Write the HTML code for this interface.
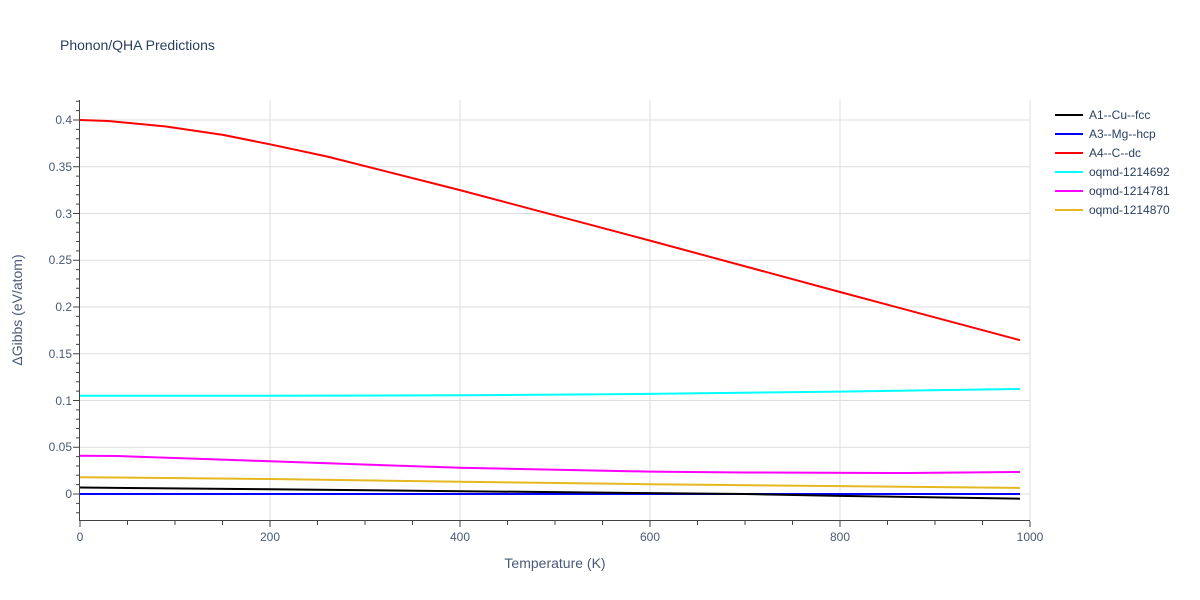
<!DOCTYPE html>
<html><head><meta charset="utf-8"><style>body{margin:0;background:#fff}svg{display:block;font-family:"Liberation Sans",sans-serif}</style></head><body>
<svg width="1200" height="600" xmlns="http://www.w3.org/2000/svg">
<rect width="1200" height="600" fill="#fff"/>
<text x="60" y="50" font-size="14" fill="#2a3f5f">Phonon/QHA Predictions</text>
<g stroke="#ddd" stroke-width="1">
<line x1="270" y1="100" x2="270" y2="520"/><line x1="460" y1="100" x2="460" y2="520"/><line x1="650" y1="100" x2="650" y2="520"/><line x1="840" y1="100" x2="840" y2="520"/><line x1="1030" y1="100" x2="1030" y2="520"/>
<line x1="80" y1="120" x2="1030" y2="120"/><line x1="80" y1="166.75" x2="1030" y2="166.75"/><line x1="80" y1="213.5" x2="1030" y2="213.5"/><line x1="80" y1="260.25" x2="1030" y2="260.25"/><line x1="80" y1="307" x2="1030" y2="307"/><line x1="80" y1="353.75" x2="1030" y2="353.75"/><line x1="80" y1="400.5" x2="1030" y2="400.5"/><line x1="80" y1="447.25" x2="1030" y2="447.25"/><line x1="80" y1="494" x2="1030" y2="494"/>
</g>
<g stroke="#444" stroke-width="1">
<line x1="79.5" y1="100" x2="79.5" y2="520.5"/><line x1="79" y1="520.5" x2="1030" y2="520.5"/>
<path d="M76 512.7H79M76 503.35H79M73 494H79M76 484.65H79M76 475.3H79M76 465.95H79M76 456.6H79M73 447.25H79M76 437.9H79M76 428.55H79M76 419.2H79M76 409.85H79M73 400.5H79M76 391.15H79M76 381.8H79M76 372.45H79M76 363.1H79M73 353.75H79M76 344.4H79M76 335.05H79M76 325.7H79M76 316.35H79M73 307H79M76 297.65H79M76 288.3H79M76 278.95H79M76 269.6H79M73 260.25H79M76 250.9H79M76 241.55H79M76 232.2H79M76 222.85H79M73 213.5H79M76 204.15H79M76 194.8H79M76 185.45H79M76 176.1H79M73 166.75H79M76 157.4H79M76 148.05H79M76 138.7H79M76 129.35H79M73 120H79M76 110.65H79M76 101.3H79"/>
<path d="M80 521V527M127.5 521V525M175 521V525M222.5 521V525M270 521V527M317.5 521V525M365 521V525M412.5 521V525M460 521V527M507.5 521V525M555 521V525M602.5 521V525M650 521V527M697.5 521V525M745 521V525M792.5 521V525M840 521V527M887.5 521V525M935 521V525M982.5 521V525M1030 521V527"/>
</g>
<g font-size="12" fill="#4a5a78" text-anchor="end">
<text x="72" y="124">0.4</text><text x="72" y="171">0.35</text><text x="72" y="218">0.3</text><text x="72" y="264">0.25</text><text x="72" y="311">0.2</text><text x="72" y="358">0.15</text><text x="72" y="405">0.1</text><text x="72" y="451">0.05</text><text x="72" y="498">0</text>
</g>
<g font-size="12" fill="#4a5a78" text-anchor="middle">
<text x="80" y="541">0</text><text x="270" y="541">200</text><text x="460" y="541">400</text><text x="650" y="541">600</text><text x="840" y="541">800</text><text x="1030" y="541">1000</text>
</g>
<text x="555" y="568" font-size="14" fill="#4a5a78" text-anchor="middle">Temperature (K)</text>
<text transform="translate(22,310) rotate(-90)" font-size="14" fill="#4a5a78" text-anchor="middle">ΔGibbs (eV/atom)</text>
<g fill="none" stroke-width="2" stroke-linejoin="round">
<polyline stroke="#0000ff" points="80,494 1020,494"/>
<polyline stroke="#000" points="80,487.5 270,489.3 460,491.2 650,493.1 745,494 840,495.9 1020,498.7"/>
<polyline stroke="#e6b820" points="80,477.2 270,479 460,481.8 650,484.2 840,486.1 1020,487.9"/>
<polyline stroke="#ff00ff" points="80,455.7 118,456 270,461.3 460,467.8 650,471.6 745,472.5 907,473 1020,472"/>
<polyline stroke="#00ffff" points="80,395.8 270,395.8 460,395.3 650,393.9 840,391.6 1020,389"/>
<polyline stroke="#ff0000" points="80,120 108,121 166,126.5 223,134.9 270,144.3 327,156.5 460,190.1 650,240.6 840,292 1020,340.2"/>
</g>
<g font-size="12" fill="#2a3f5f">
<line x1="1055" y1="115" x2="1083" y2="115" stroke="#000" stroke-width="2"/><text x="1089" y="119">A1--Cu--fcc</text>
<line x1="1055" y1="134" x2="1083" y2="134" stroke="#0000ff" stroke-width="2"/><text x="1089" y="138">A3--Mg--hcp</text>
<line x1="1055" y1="153" x2="1083" y2="153" stroke="#ff0000" stroke-width="2"/><text x="1089" y="157">A4--C--dc</text>
<line x1="1055" y1="172" x2="1083" y2="172" stroke="#00ffff" stroke-width="2"/><text x="1089" y="176">oqmd-1214692</text>
<line x1="1055" y1="191" x2="1083" y2="191" stroke="#ff00ff" stroke-width="2"/><text x="1089" y="195">oqmd-1214781</text>
<line x1="1055" y1="210" x2="1083" y2="210" stroke="#e6b820" stroke-width="2"/><text x="1089" y="214">oqmd-1214870</text>
</g>
</svg>
</body></html>
